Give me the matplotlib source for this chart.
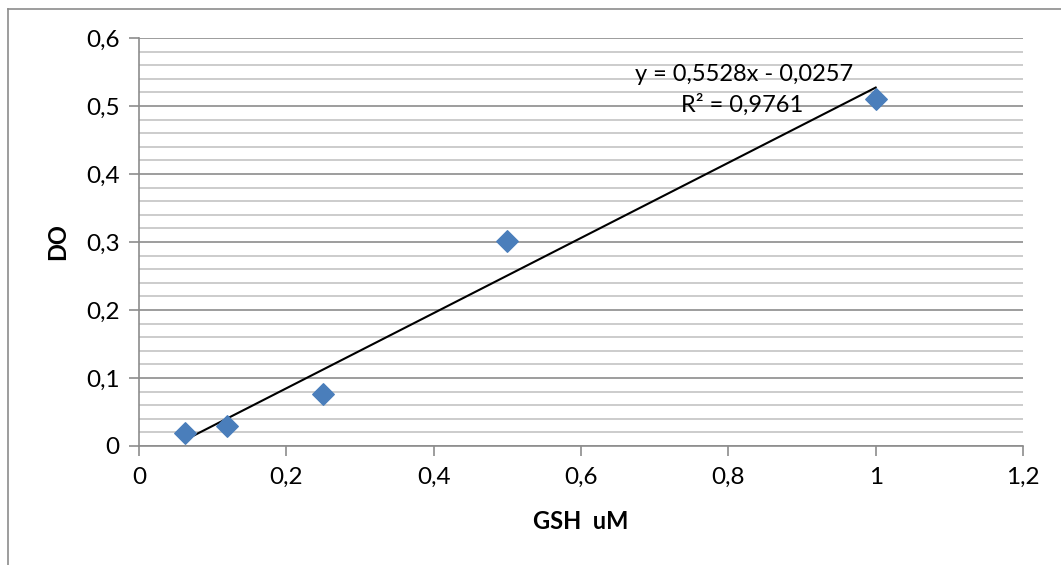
import numpy as np
import matplotlib.pyplot as plt
from matplotlib.lines import Line2D
from matplotlib.ticker import MultipleLocator, FuncFormatter

# GSH standard curve
gsh_um = [0.0625, 0.12, 0.25, 0.5, 1.0]
do_vals = [0.019, 0.029, 0.077, 0.302, 0.510]

# linear fit shown on the chart
slope = 0.5528
intercept = -0.0257
r2 = 0.9761

plt.rcParams['font.family'] = ['Lato', 'DejaVu Sans']

fig = plt.figure(figsize=(10.61, 5.65), dpi=100)
ax = fig.add_axes([139 / 1061, 1 - 446 / 565, (1023 - 139) / 1061, (446 - 38) / 565])

# chart frame (only left and top edges show)
fig.add_artist(Line2D([8 / 1061, 8 / 1061], [0, 1 - 9 / 565], transform=fig.transFigure,
                      color='#8c8c8c', lw=1.2))
fig.add_artist(Line2D([8 / 1061, 1], [1 - 9 / 565, 1 - 9 / 565], transform=fig.transFigure,
                      color='#8c8c8c', lw=1.2))

ax.set_xlim(0, 1.2)
ax.set_ylim(0, 0.6)
ax.xaxis.set_major_locator(MultipleLocator(0.2))
ax.yaxis.set_major_locator(MultipleLocator(0.1))
ax.yaxis.set_minor_locator(MultipleLocator(0.02))

comma = FuncFormatter(lambda v, p: ('%g' % round(v, 2)).replace('.', ','))
ax.xaxis.set_major_formatter(comma)
ax.yaxis.set_major_formatter(comma)

ax.grid(axis='y', which='minor', color='#c4c4c4', lw=1.2)
ax.grid(axis='y', which='major', color='#8c8c8c', lw=1.2)
ax.tick_params(axis='y', which='minor', length=0)
ax.tick_params(which='major', length=7, width=1.2, color='#8c8c8c', labelsize=17.5)
ax.tick_params(axis='x', pad=8)
ax.tick_params(axis='y', pad=7)
ax.set_axisbelow(True)

for s in ['top', 'right']:
    ax.spines[s].set_visible(False)
for s in ['left', 'bottom']:
    ax.spines[s].set_color('#8c8c8c')
    ax.spines[s].set_linewidth(1.2)

# trend line
xf = np.array([gsh_um[0], gsh_um[-1]])
ax.plot(xf, slope * xf + intercept, color='black', lw=1.5, zorder=3)

ax.scatter(gsh_um, do_vals, marker='D', s=120, color='#4a7ebb', edgecolors='#4a7ebb',
           zorder=4, clip_on=False)

eq = 'y = %s' % ('%.4fx - %.4f' % (slope, -intercept)).replace('.', ',')
ax.text(0.822, 0.547, eq, fontsize=17, ha='center', va='center')
ax.text(0.819, 0.5025, 'R² = %s' % ('%.4f' % r2).replace('.', ','), fontsize=17,
        ha='center', va='center')

ax.set_xlabel('GSH  uM', fontsize=17, fontweight='bold', labelpad=16)
ax.set_ylabel('DO', fontsize=17, fontweight='bold', labelpad=12)

fig.savefig('out.png', dpi=100)
